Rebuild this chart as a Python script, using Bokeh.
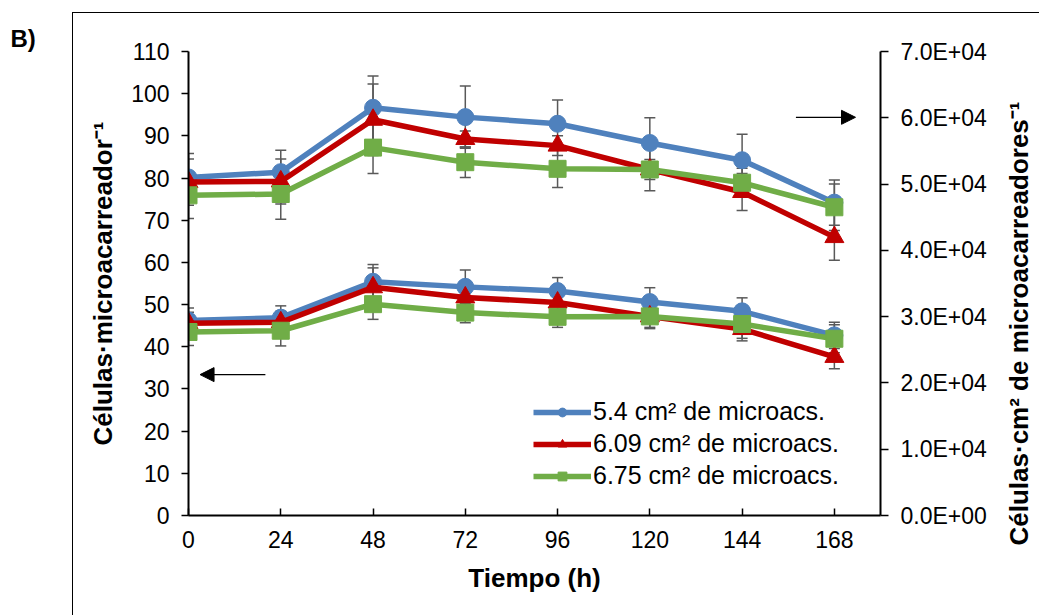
import math
from bokeh.plotting import figure
from bokeh.layouts import row
from bokeh.models import (Range1d, LinearAxis, FixedTicker, CustomJSTickFormatter, Whisker,
                          TeeHead, ColumnDataSource, Arrow, NormalHead, Legend, LegendItem,
                          InlineStyleSheet, Title)
from bokeh.embed import file_html
from bokeh.resources import INLINE

# ---------------- data ----------------
time_h = [0, 24, 48, 72, 96, 120, 144, 168]
x_ticks = [0, 24, 48, 72, 96, 120, 144, 168]
left_ticks = [0, 10, 20, 30, 40, 50, 60, 70, 80, 90, 100, 110]
right_ticks = [0, 10000, 20000, 30000, 40000, 50000, 60000, 70000]

series_names = ["5.4 cm² de microacs.", "6.09 cm² de microacs.", "6.75 cm² de microacs."]

# cells per microcarrier (left axis)
blue_mc = [46.2, 46.9, 55.4, 54.2, 53.2, 50.6, 48.4, 42.7]
red_mc = [45.6, 45.8, 54.1, 51.7, 50.5, 47.2, 44.2, 37.6]
green_mc = [43.5, 43.8, 50.1, 48.1, 47.1, 47.2, 45.4, 41.9]
blue_mc_err = [3.0, 2.8, 4.1, 4.0, 3.2, 3.4, 3.2, 3.1]
red_mc_err = [2.6, 2.6, 4.6, 2.6, 2.5, 2.6, 2.8, 2.8]
green_mc_err = [3.2, 3.6, 3.6, 2.4, 2.5, 2.9, 3.4, 3.3]

# cells per cm2 of microcarriers (right axis)
blue_cm = [51000, 51800, 61500, 60100, 59100, 56200, 53600, 47200]
red_cm = [50300, 50400, 59700, 56800, 55800, 52200, 48800, 42000]
green_cm = [48300, 48500, 55500, 53300, 52300, 52200, 50200, 46500]
blue_cm_err = [3600, 3300, 4800, 4700, 3600, 3800, 3900, 3400]
red_cm_err = [3500, 3400, 5400, 1200, 1500, 1500, 2800, 3500]
green_cm_err = [3500, 3800, 3900, 2300, 2800, 3200, 2200, 3500]

right_title = "Células·cm² de microacarreadores⁻¹"

colors = ["#4F81BD", "#C00000", "#70AD47"]
markers = ["circle", "triangle", "square"]
FONT = "Liberation Sans"

# ---------------- main figure ----------------
p = figure(width=1002, height=615, output_backend="svg", toolbar_location=None,
           x_range=Range1d(0, 180), y_range=Range1d(0, 110),
           min_border_left=188, min_border_right=122, min_border_top=51, min_border_bottom=100)
p.extra_y_ranges = {"right": Range1d(0, 70000)}
p.outline_line_color = None
p.xgrid.visible = False
p.ygrid.visible = False
p.background_fill_color = "white"
p.border_fill_color = "white"

# panel label
p.title.text = "B)"
p.title.align = "left"
p.title.offset = -178
p.title.standoff = 0
p.title.text_font = FONT
p.title.text_font_size = "24px"
p.title.text_font_style = "bold"
p.title.text_color = "black"

def style_axis(ax):
    ax.axis_line_color = "black"
    ax.axis_line_width = 2
    ax.major_tick_line_color = "black"
    ax.major_tick_line_width = 1.5
    ax.minor_tick_line_color = None
    ax.major_label_text_font = FONT
    ax.major_label_text_font_size = "23px"
    ax.major_label_text_color = "black"
    ax.axis_label_text_font = FONT
    ax.axis_label_text_font_size = "26px"
    ax.axis_label_text_font_style = "bold"
    ax.axis_label_text_color = "black"

xa = p.xaxis[0]
style_axis(xa)
xa.ticker = FixedTicker(ticks=x_ticks)
xa.major_tick_in = 7
xa.major_tick_out = 0
xa.major_label_standoff = 15
xa.axis_label = "Tiempo (h)"
xa.axis_label_standoff = 12

ya = p.yaxis[0]
style_axis(ya)
ya.ticker = FixedTicker(ticks=left_ticks)
ya.major_tick_in = 0
ya.major_tick_out = 7
ya.major_label_standoff = 12
ya.axis_label = "Células·microacarreador⁻¹"
ya.axis_label_standoff = 10

ra = LinearAxis(y_range_name="right")
style_axis(ra)
ra.ticker = FixedTicker(ticks=right_ticks)
ra.major_tick_in = 0
ra.major_tick_out = 8
ra.major_label_standoff = 12
ra.formatter = CustomJSTickFormatter(code="""
const s = tick.toExponential(1);
const parts = s.split('e');
const sign = parts[1][0];
const digs = parts[1].slice(1).padStart(2, '0');
return parts[0] + 'E' + sign + digs;
""")
p.add_layout(ra, "right")

# ---------------- error bars ----------------
def add_whisker(xs, ys, errs, range_name):
    lower = [y - e for y, e in zip(ys, errs)]
    upper = [y + e for y, e in zip(ys, errs)]
    src = ColumnDataSource(dict(x=xs, lower=lower, upper=upper))
    kw = {}
    if range_name:
        kw["y_range_name"] = range_name
    w = Whisker(source=src, base="x", lower="lower", upper="upper", dimension="height",
                line_color="#595959", line_width=1.5, level="underlay",
                upper_head=TeeHead(size=11, line_color="#595959", line_width=1.5),
                lower_head=TeeHead(size=11, line_color="#595959", line_width=1.5), **kw)
    p.add_layout(w)

for ys, es in [(blue_mc, blue_mc_err), (red_mc, red_mc_err), (green_mc, green_mc_err)]:
    add_whisker(time_h, ys, es, None)
for ys, es in [(blue_cm, blue_cm_err), (red_cm, red_cm_err), (green_cm, green_cm_err)]:
    add_whisker(time_h, ys, es, "right")

# ---------------- lines and markers ----------------
legend_items = []
groups = [(blue_mc, blue_cm), (red_mc, red_cm), (green_mc, green_cm)]
for i, (ymc, ycm) in enumerate(groups):
    c = colors[i]
    m = markers[i]
    size = 17 if m != "triangle" else 19
    l1 = p.line(time_h, ymc, line_color=c, line_width=5.5)
    s1 = p.scatter(time_h, ymc, marker=m, size=size, fill_color=c, line_color=c)
    l2 = p.line(time_h, ycm, line_color=c, line_width=5.5, y_range_name="right")
    s2 = p.scatter(time_h, ycm, marker=m, size=size, fill_color=c, line_color=c, y_range_name="right")
    legend_items.append(LegendItem(label=series_names[i], renderers=[l1, s1]))

legend = Legend(items=legend_items, location=(345, 25), orientation="vertical",
                label_text_font=FONT, label_text_font_size="25px", label_text_color="black",
                glyph_width=58, glyph_height=22, label_height=22, label_standoff=2,
                spacing=3, padding=0, margin=0,
                border_line_color=None, background_fill_alpha=0)
p.add_layout(legend, "center")

# ---------------- arrows ----------------
arrow_left = dict(x_start=20.0, x_end=3.0, y=33.4)
arrow_right = dict(x_start=158.0, x_end=173.5, y=94.4)
for a in (arrow_left, arrow_right):
    p.add_layout(Arrow(end=NormalHead(size=14, fill_color="black", line_color="black"),
                       x_start=a["x_start"], y_start=a["y"], x_end=a["x_end"], y_end=a["y"],
                       line_color="black", line_width=1.3))

# ---------------- right axis title (narrow strip figure, title on its left side) ----------------
p2 = figure(width=37, height=615, output_backend="svg", toolbar_location=None,
            x_range=Range1d(0, 1), y_range=Range1d(0, 1),
            x_axis_location=None, y_axis_location=None, min_border=0)
p2.outline_line_color = None
p2.xgrid.visible = False
p2.ygrid.visible = False
p2.background_fill_color = "white"
p2.border_fill_color = "white"
p2.title.visible = False
p2.add_layout(Title(text=right_title, align="left", offset=-30, standoff=0,
                    vertical_align="middle",
                    text_font=FONT, text_font_size="26px", text_font_style="bold",
                    text_color="black"), "left")

lay = row(p, p2, spacing=0)
lay.stylesheets = [InlineStyleSheet(css="""
:host { position: relative; overflow: hidden; }
:host::after {
  content: ""; position: absolute; left: 72px; top: 12px;
  width: 1000px; height: 640px; border: 1.5px solid black;
  pointer-events: none; box-sizing: border-box;
}
""")]

open("out.html", "w").write(file_html(lay, INLINE))
